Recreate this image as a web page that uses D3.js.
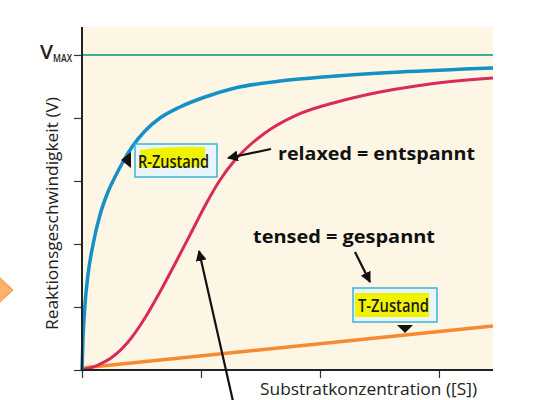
<!DOCTYPE html>
<html><head><meta charset="utf-8">
<script src="https://cdn.jsdelivr.net/npm/d3@7"></script>
<style>html,body{margin:0;padding:0;background:#fff;}svg{display:block;}</style>
</head><body>
<svg id="c" width="542" height="400"></svg>
<script>
// ---- data ----
const xTicks = [0, 1, 2, 3];
const yTicks = [0, 1, 2, 3, 4, 5];
const vmax = 5;
const rState = [[0,0],[0.008,0.476],[0.025,1.032],[0.050,1.508],[0.092,1.984],[0.151,2.460],[0.218,2.825],[0.286,3.095],[0.353,3.333],[0.420,3.540],[0.529,3.794],[0.655,4.000],[0.824,4.175],[1.034,4.333],[1.286,4.476],[1.664,4.587],[2.143,4.667],[2.672,4.730],[3.454,4.794]];
const sigmoid = [[0,0],[0.134,0.079],[0.244,0.190],[0.387,0.444],[0.529,0.825],[0.664,1.270],[0.807,1.778],[0.916,2.175],[1.042,2.635],[1.160,3.016],[1.286,3.333],[1.412,3.571],[1.538,3.762],[1.807,4.048],[2.143,4.254],[2.504,4.413],[2.924,4.540],[3.454,4.635]];
const tState = [[0,0.03],[3.454,0.70]];
const xLabel = "Substratkonzentration ([S])";
const yLabel = "Reaktionsgeschwindigkeit (V)";

// ---- chart ----
const svg = d3.select("#c");
const x = d3.scaleLinear().domain([0, 3.454]).range([82, 493]);
const y = d3.scaleLinear().domain([0, 5.444]).range([370, 27]);

const defs = svg.append("defs");
defs.append("marker").attr("id","ah").attr("viewBox","0 0 10 10").attr("refX",9).attr("refY",5)
  .attr("markerWidth",5).attr("markerHeight",5).attr("orient","auto")
  .append("path").attr("d","M0,0L10,5L0,10z").attr("fill","#111");

// orange shape at left
svg.append("polygon").attr("points","-4,274 13,290 -4,306").attr("fill","#fdb36e").attr("stroke","#f7943a").attr("stroke-width",1);
svg.append("polyline").attr("points","0,282 13,290 0,298").attr("fill","none").attr("stroke","#f9a055").attr("stroke-width",1);

// background
svg.append("rect").attr("x",x(0)).attr("y",y(5.444)).attr("width",x(3.454)-x(0)).attr("height",y(0)-y(5.444)).attr("fill","#fdf6e5");

// vmax line
svg.append("line").attr("x1",x(0)).attr("x2",x(3.454)).attr("y1",y(vmax)).attr("y2",y(vmax))
  .attr("stroke","#3fae98").attr("stroke-width",2);

const line = d3.line().x(d=>x(d[0])).y(d=>y(d[1])).curve(d3.curveMonotoneX);
svg.append("path").datum(tState).attr("d",line).attr("fill","none").attr("stroke","#f58a2e").attr("stroke-width",3.5);
svg.append("path").datum(sigmoid).attr("d",line).attr("fill","none").attr("stroke","#da2a5c").attr("stroke-width",3);
svg.append("path").datum(rState).attr("d",line).attr("fill","none").attr("stroke","#1590c6").attr("stroke-width",3.5);

// axes
const xa = svg.append("g").attr("transform",`translate(0,${y(0)})`)
  .call(d3.axisBottom(x).tickValues(xTicks).tickSize(8).tickFormat(""));
const ya = svg.append("g").attr("transform",`translate(${x(0)},0)`)
  .call(d3.axisLeft(y).tickValues(yTicks).tickSize(8).tickFormat(""));
[xa,ya].forEach(g=>{
  g.select(".domain").remove();
  g.selectAll(".tick line").attr("stroke","#333").attr("stroke-width",1.2);
});
svg.append("line").attr("x1",x(0)).attr("x2",x(0)).attr("y1",y(5.444)).attr("y2",y(0)+1).attr("stroke","#222").attr("stroke-width",2);
svg.append("line").attr("x1",x(0)-1).attr("x2",x(3.454)).attr("y1",y(0)).attr("y2",y(0)).attr("stroke","#222").attr("stroke-width",2);

// Vmax label
svg.append("text").attr("x",40).attr("y",y(vmax)+4).attr("font-family","'Open Sans', sans-serif").attr("font-weight",600)
  .attr("font-size",19).attr("fill","#222").attr("textLength",13).attr("lengthAdjust","spacingAndGlyphs").text("V");
svg.append("text").attr("x",53).attr("y",y(vmax)+7).attr("font-family","'Open Sans', sans-serif")
  .attr("font-size",11).attr("font-weight",600).attr("fill","#222").attr("textLength",19).attr("lengthAdjust","spacingAndGlyphs").text("MAX");

// axis labels
svg.append("text").attr("x",260).attr("y",395).attr("font-family","'Open Sans', sans-serif")
  .attr("font-size",17).attr("fill","#222").attr("textLength",217).attr("lengthAdjust","spacingAndGlyphs").text(xLabel);
svg.append("text").attr("transform","translate(58,330) rotate(-90)").attr("font-family","'Open Sans', sans-serif")
  .attr("font-size",17).attr("fill","#222").attr("textLength",233).attr("lengthAdjust","spacingAndGlyphs").text(yLabel);

// R-Zustand box
svg.append("rect").attr("x",135).attr("y",144).attr("width",82).attr("height",33).attr("fill","#e8f6fb").attr("stroke","#3cb2da").attr("stroke-width",1.5);
svg.append("path").attr("d","M140,150 Q170,146 205,147 L205,167 L140,168z").attr("fill","#f0f200");
svg.append("text").attr("x",138).attr("y",168).attr("font-family","'Open Sans', sans-serif").attr("font-weight",600)
  .attr("font-size",18).attr("fill","#1a1a1a").attr("textLength",71).attr("lengthAdjust","spacingAndGlyphs").text("R-Zustand");
svg.append("polygon").attr("points","121,160 131,152 131,168").attr("fill","#111");

// T-Zustand box
svg.append("rect").attr("x",353).attr("y",288).attr("width",84).attr("height",34).attr("fill","#e8f6fb").attr("stroke","#3cb2da").attr("stroke-width",1.5);
svg.append("rect").attr("x",355).attr("y",293).attr("width",74).attr("height",24).attr("fill","#f0f200");
svg.append("text").attr("x",358).attr("y",312).attr("font-family","'Open Sans', sans-serif").attr("font-weight",600)
  .attr("font-size",18).attr("fill","#1a1a1a").attr("textLength",71).attr("lengthAdjust","spacingAndGlyphs").text("T-Zustand");
svg.append("polygon").attr("points","397,325 413,325 405,333").attr("fill","#111");

// annotations
svg.append("text").attr("x",278).attr("y",160).attr("font-family","'Open Sans', sans-serif").attr("font-weight",700)
  .attr("font-size",18).attr("fill","#111").attr("textLength",197).attr("lengthAdjust","spacingAndGlyphs").text("relaxed = entspannt");
svg.append("text").attr("x",253).attr("y",243).attr("font-family","'Open Sans', sans-serif").attr("font-weight",700)
  .attr("font-size",18).attr("fill","#111").attr("textLength",182).attr("lengthAdjust","spacingAndGlyphs").text("tensed = gespannt");

svg.append("line").attr("x1",271).attr("y1",149).attr("x2",228).attr("y2",158).attr("stroke","#111").attr("stroke-width",2.2).attr("marker-end","url(#ah)");
svg.append("line").attr("x1",355).attr("y1",252).attr("x2",370).attr("y2",282).attr("stroke","#111").attr("stroke-width",2.2).attr("marker-end","url(#ah)");
svg.append("line").attr("x1",235).attr("y1",410).attr("x2",199).attr("y2",251).attr("stroke","#111").attr("stroke-width",2.2).attr("marker-end","url(#ah)");
</script>
</body></html>
